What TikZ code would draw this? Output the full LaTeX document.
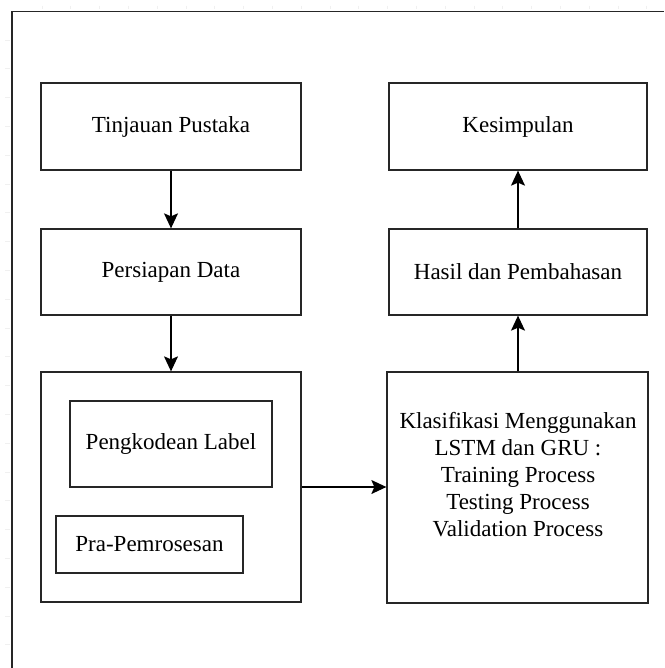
\documentclass[tikz,border=0pt]{standalone}
\usepackage{fontspec}
\setmainfont{Liberation Serif}
\usetikzlibrary{arrows.meta}
\begin{document}
\begin{tikzpicture}[x=1pt,y=-1pt,
  box/.style={draw=black!85,line width=1.3pt,rectangle,inner sep=0pt,align=center,
    font=\fontsize{23}{27}\selectfont},
  conn/.style={draw=black,line width=1.3pt,-{Stealth[length=15pt,width=14pt,inset=3pt]}},
  tick/.style={draw=black!6,line width=0.8pt}]
\useasboundingbox (0,0) rectangle (664,668);
\fill[white] (0,0) rectangle (664,668);
% faint grid ticks
\foreach \i in {0,...,22} \draw[tick] (5,40+28.8*\i) -- (10,40+28.8*\i);
\foreach \i in {0,...,21} \draw[tick] (42+28.8*\i,6) -- (42+28.8*\i,9);
% outer frame
\draw[black!85,line width=1.3pt] (12,668) -- (12,11.3) -- (664,11.3);
% nodes
\node[box,minimum width=260pt,minimum height=87pt] (tp) at (171,126.5) {Tinjauan Pustaka};
\node[box,minimum width=260pt,minimum height=86pt] (pd) at (171,272) {Persiapan Data};
\node[box,minimum width=260pt,minimum height=230pt] (big) at (171,487) {};
\node[box,minimum width=202pt,minimum height=86pt] (pk) at (171,444) {Pengkodean Label};
\node[box,minimum width=187pt,minimum height=57pt] (pra) at (149.5,544.5) {Pra-Pemrosesan};
\node[box,minimum width=261pt,minimum height=231pt] (kla) at (517.5,487.5) {};
\node[box,draw=none] (klat) at (518,475) {Klasifikasi Menggunakan\\LSTM dan GRU :\\Training Process\\Testing Process\\Validation Process};
\node[box,minimum width=258pt,minimum height=86pt] (hp) at (518,272) {Hasil dan Pembahasan};
\node[box,minimum width=258pt,minimum height=87pt] (ks) at (518,126.5) {Kesimpulan};
% connectors
\draw[conn] (tp.south) -- (pd.north);
\draw[conn] (pd.south) -- (big.north);
\draw[conn] (big.east) -- (big.east -| kla.west);
\draw[conn] (kla.north -| hp.south) -- (hp.south);
\draw[conn] (hp.north) -- (ks.south);
\end{tikzpicture}
\end{document}
